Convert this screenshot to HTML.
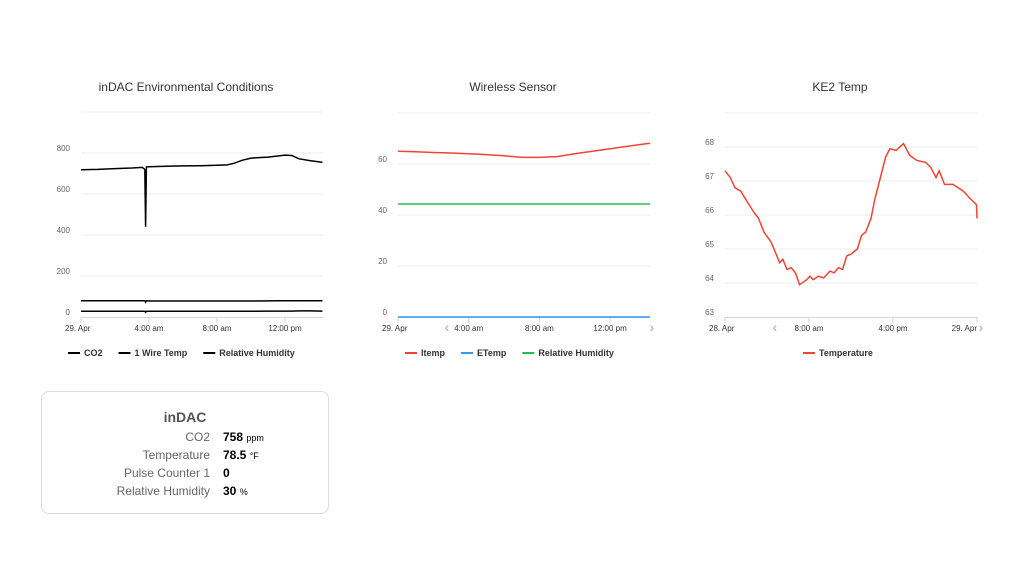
<!DOCTYPE html>
<html><head><meta charset="utf-8">
<style>
body{margin:0;background:#fff;font-family:"Liberation Sans",sans-serif;}
svg text{font-family:"Liberation Sans",sans-serif;}
.box{position:absolute;left:41px;top:391px;width:288px;height:123px;border:1px solid #ddd;border-radius:8px;box-sizing:border-box;}
.row{position:absolute;font-size:12px;}
.lab{position:absolute;right:118px;color:#666;}
.val{position:absolute;left:181px;color:#000;font-weight:bold;}
.val small{font-weight:normal;font-size:9px;}
</style></head>
<body>
<svg id="svg" width="1011" height="588" style="position:absolute;left:0;top:0"></svg>
<div class="box">
 <div style="position:absolute;left:0;right:0;top:17px;text-align:center;font-weight:bold;font-size:14px;color:#555">inDAC</div>
 <div class="row" style="top:38px;width:100%"><span class="lab">CO2</span><span class="val">758 <small>ppm</small></span></div>
 <div class="row" style="top:56px;width:100%"><span class="lab">Temperature</span><span class="val">78.5 <small>°F</small></span></div>
 <div class="row" style="top:74px;width:100%"><span class="lab">Pulse Counter 1</span><span class="val">0</span></div>
 <div class="row" style="top:92px;width:100%"><span class="lab">Relative Humidity</span><span class="val">30 <small>%</small></span></div>
</div>
<script>
// Chart 1 data (hours since 29 Apr 00:00)
const c1Hours=[0,1,2,3,3.6,3.75,3.8,3.85,4,5,6,7,8,8.6,9,9.5,10,11,11.5,12,12.4,12.8,13.5,14.2];
const c1CO2=[718,720,724,727,730,720,440,732,733,735,737,738,740,742,750,765,775,780,785,790,788,772,762,755];
const c1Temp=[79,79,79,79,79,79,72,79,78,78,78,78,78,78,78,78,78,78.5,79,79,79,79,79,79];
const c1Hum=[28,28,28,28,28,28,23,28,28,28,28,28,28,28,28,28,28,29,29,29,29,30,30,29];
const c1YTicks=[0,200,400,600,800];
const c1XTicks=["29. Apr","4:00 am","8:00 am","12:00 pm"];
// Chart 2
const c2Hours=[0,1,2,3,4,5,6,7,8,9,10,11,12,13,14.25];
const c2Itemp=[65,64.8,64.5,64.3,64,63.7,63.2,62.6,62.6,62.9,64,65,66,67,68.1];
const c2Etemp=[0,0,0,0,0,0,0,0,0,0,0,0,0,0,0];
const c2Hum=[44.3,44.3,44.3,44.3,44.3,44.3,44.3,44.3,44.3,44.3,44.3,44.3,44.3,44.3,44.3];
const c2YTicks=[0,20,40,60];
const c2XTicks=["29. Apr","4:00 am","8:00 am","12:00 pm"];
// Chart 3 (hours since 28 Apr 00:00)
const c3Hours=[0,0.5,0.95,1.5,2.1,2.7,3.2,3.7,4.4,5.2,5.5,5.9,6.3,6.7,7.1,7.8,8.1,8.4,8.9,9.4,10,10.4,10.8,11.2,11.6,12,12.6,13,13.4,13.9,14.3,14.8,15.3,15.7,16.3,17,17.6,18.3,19.1,19.6,20.1,20.4,20.9,21.7,22.2,22.7,23.3,23.8,23.95,24];
const c3Temp=[67.3,67.1,66.8,66.7,66.4,66.1,65.9,65.5,65.2,64.6,64.7,64.4,64.45,64.3,63.95,64.1,64.2,64.1,64.2,64.15,64.35,64.3,64.45,64.4,64.8,64.85,65.0,65.4,65.5,65.9,66.5,67.1,67.7,67.95,67.9,68.1,67.75,67.6,67.55,67.4,67.1,67.3,66.9,66.9,66.8,66.7,66.5,66.35,66.3,65.9];
const c3YTicks=[63,64,65,66,67,68];
const c3XTicks=["28. Apr","8:00 am","4:00 pm","29. Apr"];

const svg=document.getElementById('svg');
const NS='http://www.w3.org/2000/svg';
function mk(tag,attrs,parent){const e=document.createElementNS(NS,tag);for(const k in attrs)e.setAttribute(k,attrs[k]);(parent||svg).appendChild(e);return e;}
function chart(o){
  const g=mk('g',{});
  
  
  const sx=h=>o.x0+(h-o.h0)*o.pxh;
  const sy=v=>o.yBot-(v-o.vmin)*o.pxv;
  const t=mk('text',{x:o.cx,y:91,'text-anchor':'middle','font-size':12,fill:'#333'},g);t.textContent=o.title;
  
  const grid=o.yTicks.concat([o.topV]);
  grid.forEach(v=>{if(v==o.vmin)return;const l=mk('line',{x1:o.x0,x2:o.x1,y1:sy(v),y2:sy(v),stroke:'#eeeeee'},g);
    });
  o.yTicks.forEach(v=>{const tt=mk('text',{x:o.x0-11,y:sy(v)-2,'text-anchor':'end','font-size':8,fill:'#666'},g);tt.textContent=v;
    });
  const ax=mk('line',{x1:o.x0,x2:o.x1,y1:o.yBot+0.5,y2:o.yBot+0.5,stroke:'#ccd6eb'},g);
  
  o.xTicks.forEach((lab,i)=>{const x=o.x0+i*o.xStep;
    const tk=mk('line',{x1:x,x2:x,y1:o.yBot,y2:o.yBot+6,stroke:'#ccd6eb'},g);
    
    const tt=mk('text',{x:x,y:o.yBot+14,'text-anchor':i==0?'start':(i==o.xTicks.length-1&&o.lastEnd?'end':'middle'),'font-size':8,fill:'#333'},g);
    if(i==0)tt.setAttribute('x',x-16);
    tt.textContent=lab;});
  o.series.forEach(s=>{const d=s.vals.map((v,i)=>(i?'L':'M')+sx(o.hours[i]).toFixed(1)+','+sy(v).toFixed(1)).join('');
    const p=mk('path',{d:d,fill:'none',stroke:s.color,'stroke-width':1.5},g);
    });
  (o.arrows||[]).forEach(a=>{const c=mk('text',{x:a[0],y:o.yBot+15,'text-anchor':'middle','font-size':14,'font-weight':'bold',fill:'#bbb'},g);c.textContent=a[1];
    });
  let lx=o.legendX;
  o.series.forEach(s=>{const lg=mk('g',{},g);
    mk('line',{x1:lx,x2:lx+12,y1:353,y2:353,stroke:s.color,'stroke-width':2},lg);
    const tt=mk('text',{x:lx+16,y:356,'font-size':9,'font-weight':'bold',fill:'#333'},lg);tt.textContent=s.label;
    lx+=16+tt.getComputedTextLength()+16;});
}
chart({name:'indac-chart',title:'inDAC Environmental Conditions',cx:186,x0:81,x1:323,h0:0,pxh:17,xStep:68,yBot:317,vmin:0,pxv:0.205,topV:1000,
  hours:c1Hours,yTicks:c1YTicks,xTicks:c1XTicks,legendX:68,
  series:[{key:'co2',label:'CO2',color:'#000',vals:c1CO2},{key:'wire-temp',label:'1 Wire Temp',color:'#000',vals:c1Temp},{key:'humidity',label:'Relative Humidity',color:'#000',vals:c1Hum}]});
chart({name:'wireless-chart',title:'Wireless Sensor',cx:513,x0:398,x1:650,h0:0,pxh:17.68,xStep:70.7,yBot:317,vmin:0,pxv:2.55,topV:80,
  hours:c2Hours,yTicks:c2YTicks,xTicks:c2XTicks,legendX:405,arrows:[[447,'‹'],[652,'›']],
  series:[{key:'itemp',label:'Itemp',color:'#ee4433',vals:c2Itemp},{key:'etemp',label:'ETemp',color:'#3399ee',vals:c2Etemp},{key:'humidity',label:'Relative Humidity',color:'#22bb55',vals:c2Hum}]});
chart({name:'ke2-chart',title:'KE2 Temp',cx:840,x0:725,x1:977,h0:0,pxh:10.5,xStep:84,yBot:317,vmin:63,pxv:34,topV:69,lastEnd:true,
  hours:c3Hours,yTicks:c3YTicks,xTicks:c3XTicks,legendX:803,arrows:[[775,'‹'],[981,'›']],
  series:[{key:'temperature',label:'Temperature',color:'#ee4433',vals:c3Temp}]});
</script>
</body></html>
